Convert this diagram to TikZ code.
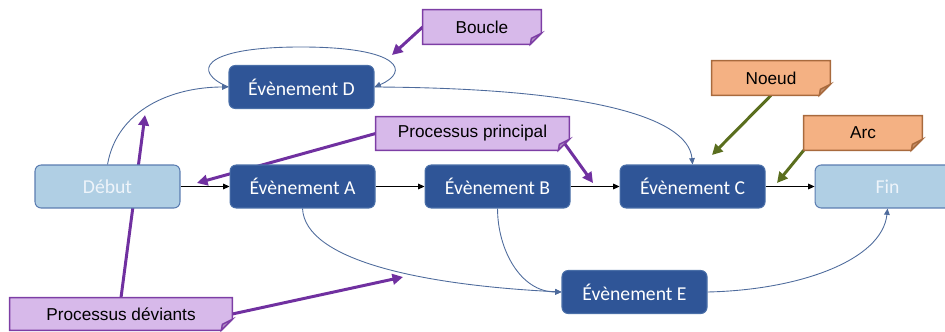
\documentclass[tikz,border=0pt]{standalone}
\usepackage{fontspec}
\setmainfont{Carlito}
\newfontfamily\notefont{Liberation Sans}
\usetikzlibrary{arrows.meta, positioning}
\definecolor{evfill}{HTML}{2F5597}
\definecolor{evline}{HTML}{4A6FA8}
\definecolor{termfill}{HTML}{B0CFE4}
\definecolor{termline}{HTML}{5B7DB1}
\definecolor{termtext}{HTML}{EEF4FA}
\definecolor{linkblue}{HTML}{4E6B9C}
\definecolor{hintpurple}{HTML}{7030A0}
\definecolor{hintgreen}{HTML}{5A6E1E}
\definecolor{nvfill}{HTML}{D7B9EA}
\definecolor{nvline}{HTML}{7D3EA5}
\definecolor{nvfold}{HTML}{AB8BC0}
\definecolor{nofill}{HTML}{F4B183}
\definecolor{noline}{HTML}{A86A3D}
\definecolor{nofold}{HTML}{C38E69}
\pgfdeclarelayer{arrowlayer}
\pgfdeclarelayer{notelayer}
\pgfsetlayers{arrowlayer,notelayer,main}

\begin{document}
\begin{tikzpicture}[
    x=0.02cm, y=-0.02cm,
    event/.style={draw=evline, fill=evfill, rounded corners=3.5pt,
                  minimum width=2.9cm, minimum height=0.86cm, inner sep=0pt,
                  text=white, line width=0.6pt,
                  font=\fontsize{11.2}{13}\selectfont},
    term/.style={event, draw=termline, fill=termfill, text=termtext},
    note/.style={minimum width=2.36cm, minimum height=0.68cm, inner sep=0pt,
                 font=\notefont\fontsize{9.8}{12}\selectfont},
    flow/.style={line width=0.5pt, -{Triangle[length=3.6pt,width=3.2pt]}},
    link/.style={flow, draw=linkblue},
    hint/.style={line width=1.7pt, -{Triangle[length=6pt,width=6pt]}},
    node distance=0.98cm,
  ]
  \clip (0,0) rectangle (945,331);

  % ===== main row =====
  \node[term] (debut) at (107.5,186.5) {Début};
  \node[event, right=of debut] (evA) {Évènement A};
  \node[event, right=of evA] (evB) {Évènement B};
  \node[event, right=of evB] (evC) {Évènement C};
  \node[term, right=of evC] (fin) {Fin};
  \foreach \a/\b in {debut/evA, evA/evB, evB/evC, evC/fin}
    \draw[flow] (\a) -- (\b);

  % ===== side events =====
  \node[event] (evD) at (301.5,87) {Évènement D};
  \node[event] (evE) at (634.5,292) {Évènement E};

  % ===== notes =====
  \node[note] (boucle) at (482,27) {Boucle};
  \node[note, minimum width=3.86cm, minimum height=0.66cm] (princ) at (472.5,133.5) {Processus principal};
  \node[note] (noeud) at (771,78) {Noeud};
  \node[note] (arc) at (863,133) {Arc};
  \node[note, minimum width=4.44cm, minimum height=0.64cm] (devi) at (121,314) {Processus déviants};

  \begin{pgfonlayer}{notelayer}
    \foreach \n/\fc/\dc/\kc in {boucle/nvfill/nvline/nvfold, princ/nvfill/nvline/nvfold,
                                devi/nvfill/nvline/nvfold, noeud/nofill/noline/nofold,
                                arc/nofill/noline/nofold} {
      \filldraw[fill=\fc, draw=\dc, line width=0.8pt]
        (\n.north west) -- (\n.north east) -- ([yshift=0.22cm]\n.south east)
        -- ([xshift=-0.22cm]\n.south east) -- (\n.south west) -- cycle;
      \filldraw[fill=\kc, draw=\dc, line width=0.8pt]
        ([yshift=0.22cm]\n.south east) -- ([xshift=-0.22cm]\n.south east)
        -- ([xshift=-0.2cm,yshift=0.12cm]\n.south east) -- cycle;
    }
  \end{pgfonlayer}

  % ===== connectors and pointers =====
  \coordinate (tipBoucle) at (392,55);
  \coordinate (tipDebut) at (197,183);
  \coordinate (tipBC) at (593,183);
  \coordinate (tipDevD) at (145,115);
  \coordinate (tipDevE) at (403,277);
  \coordinate (tipNoeud) at (712,155);
  \coordinate (tipArc) at (777,183);

  \begin{pgfonlayer}{arrowlayer}
    \draw[link] (debut.north) to[out=80,in=180] (evD.west);
    \draw[link] (evD.west) .. controls (192,72) and (200,47) .. (301,47)
                           .. controls (402,47) and (410,72) .. (evD.east);
    \draw[link] (evD.east) .. controls (580,88) and (688,115) .. (evC.north);
    \draw[link] (evA.south) .. controls (305,260) and (420,285) .. (evE.west);
    \draw[link] (evB.south) to[out=-90,in=180] (evE.west);
    \draw[link] (evE.east) .. controls (800,290) and (882,260) .. (fin.south);

    \draw[hint, hintpurple] (boucle.west) -- (tipBoucle);
    \draw[hint, hintpurple] (princ.west) -- (tipDebut);
    \draw[hint, hintpurple] ([xshift=-0.14cm,yshift=0.2cm]princ.south east) -- (tipBC);
    \draw[hint, hintpurple] (devi.north) -- (tipDevD);
    \draw[hint, hintpurple] (devi.east) -- (tipDevE);
    \draw[hint, hintgreen] (noeud.south) -- (tipNoeud);
    \draw[hint, hintgreen] (arc.south west) -- (tipArc);
  \end{pgfonlayer}
\end{tikzpicture}
\end{document}
